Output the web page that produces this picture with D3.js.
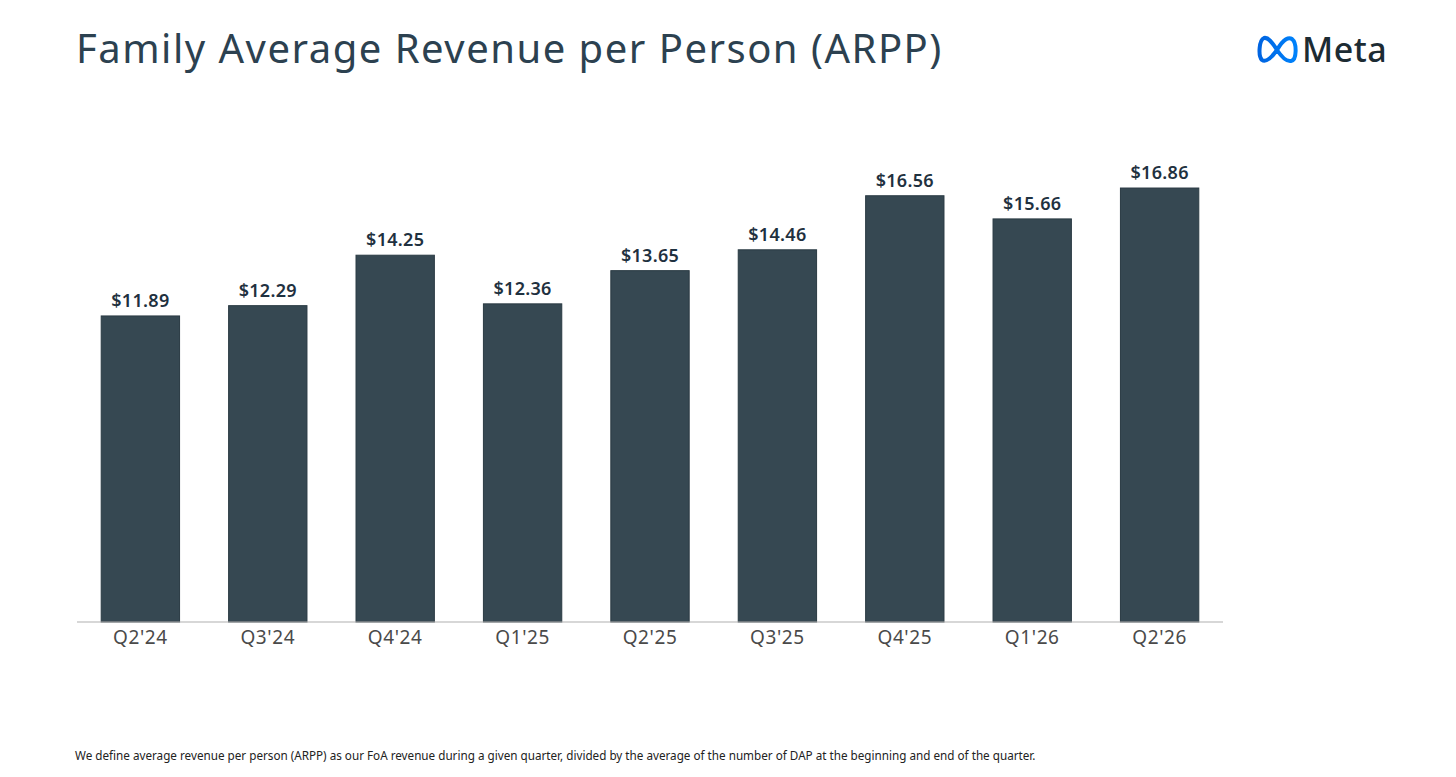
<!DOCTYPE html>
<html>
<head>
<meta charset="utf-8">
<script src="https://cdn.jsdelivr.net/npm/d3@7"></script>
<style>
  body { margin: 0; background: #fff; }
  svg { display: block; }
</style>
</head>
<body>
<svg id="chart" width="1456" height="777"></svg>
<script>
// chart data
var quarters = ["Q2'24", "Q3'24", "Q4'24", "Q1'25", "Q2'25", "Q3'25", "Q4'25", "Q1'26", "Q2'26"];
var arpp = [11.89, 12.29, 14.25, 12.36, 13.65, 14.46, 16.56, 15.66, 16.86];

var title = "Family Average Revenue per Person (ARPP)";
var footnote = "We define average revenue per person (ARPP) as our FoA revenue during a given quarter, divided by the average of the number of DAP at the beginning and end of the quarter.";

var svg = d3.select("#chart");

var x = d3.scaleBand()
  .domain(quarters)
  .range([77, 1223])
  .paddingInner(0.385)
  .paddingOuter(0.19);

var y = d3.scaleLinear()
  .domain([0, 20])
  .range([622, 107.2]);

// title
svg.append("text")
  .attr("x", 76)
  .attr("y", 63)
  .attr("font-family", "Noto Sans")
  .attr("font-size", 40)
  .attr("letter-spacing", 1.5)
  .attr("fill", "#2c4150")
  .text(title);

// bars
svg.selectAll("rect.bar")
  .data(arpp)
  .join("rect")
  .attr("class", "bar")
  .attr("x", function(d, i) { return x(quarters[i]); })
  .attr("y", function(d) { return y(d); })
  .attr("width", x.bandwidth())
  .attr("height", function(d) { return y(0) - y(d); })
  .attr("fill", "#364852")
  .attr("stroke", "#2a3a43")
  .attr("stroke-width", 1);

// value labels
svg.selectAll("text.val")
  .data(arpp)
  .join("text")
  .attr("class", "val")
  .attr("x", function(d, i) { return x(quarters[i]) + x.bandwidth() / 2; })
  .attr("y", function(d) { return y(d) - 9; })
  .attr("text-anchor", "middle")
  .attr("font-family", "Noto Sans")
  .attr("font-weight", 600)
  .attr("font-size", 18)
  .attr("letter-spacing", 0.3)
  .attr("fill", "#1f3140")
  .text(function(d) { return "$" + d.toFixed(2); });

// x axis
var xAxis = svg.append("g")
  .attr("transform", "translate(0," + y(0) + ")")
  .call(d3.axisBottom(x).tickSize(0).tickPadding(9));
xAxis.select(".domain").attr("stroke", "#b0b0b0").attr("stroke-width", 1.2)
  .attr("d", "M77,0H1223");
xAxis.selectAll("text")
  .attr("font-family", "Noto Sans")
  .attr("font-size", 19)
  .attr("letter-spacing", 0.6)
  .attr("fill", "#4a4a4a");

// footnote
svg.append("text")
  .attr("x", 75)
  .attr("y", 760)
  .attr("font-family", "Noto Sans")
  .attr("font-size", 11.7)
  .attr("fill", "#222")
  .text(footnote);

// meta logo
var grad = svg.append("defs").append("linearGradient")
  .attr("id", "metaGrad")
  .attr("x1", "0").attr("x2", "1").attr("y1", "0").attr("y2", "0");
grad.append("stop").attr("offset", "0%").attr("stop-color", "#0064e1");
grad.append("stop").attr("offset", "100%").attr("stop-color", "#0082fb");

svg.append("path")
  .attr("d", "M1277,50 C1284,38 1289,37 1292,39 C1297,43 1297,60 1291,61 C1286,62 1281,56 1277,50 C1272,42 1268,37 1264,38 C1259,40 1258,56 1262,60 C1266,63 1272,57 1277,50 Z")
  .attr("fill", "none")
  .attr("stroke", "url(#metaGrad)")
  .attr("stroke-width", 4)
  .attr("stroke-linejoin", "round");

svg.append("text")
  .attr("x", 1302)
  .attr("y", 62)
  .attr("font-family", "Noto Sans")
  .attr("font-weight", 500)
  .attr("font-size", 34)
  .attr("letter-spacing", 0.5)
  .attr("fill", "#1c2b33")
  .text("Meta");
</script>
</body>
</html>
